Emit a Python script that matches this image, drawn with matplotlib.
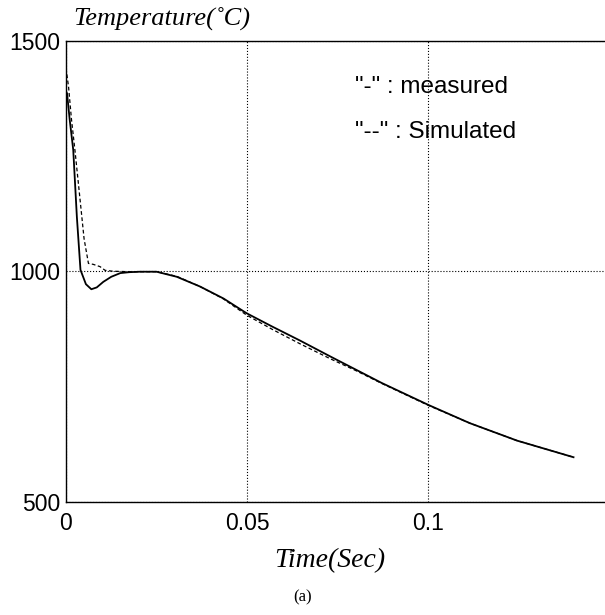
import matplotlib
matplotlib.use('Agg')
from matplotlib import pyplot as plt

# measured temperature trace
t_meas = [0, 0.0003, 0.001, 0.002, 0.003, 0.004, 0.0055, 0.007, 0.0085, 0.0103, 0.0125,
          0.015, 0.0175, 0.0205, 0.025, 0.0306, 0.037, 0.0435, 0.0499, 0.057, 0.0646,
          0.0731, 0.0872, 0.1002, 0.1115, 0.1246, 0.1402]
T_meas = [1390, 1385, 1330, 1263, 1118, 1003, 972, 961, 965, 977, 988,
          996, 998, 999, 999, 988, 967, 941, 909, 880, 850,
          815, 758, 710, 671, 633, 597]

# simulated temperature trace
t_sim = [0, 0.0007, 0.0015, 0.0025, 0.0039, 0.005, 0.0062, 0.0075, 0.0094, 0.0108, 0.013,
         0.0175, 0.0205, 0.025, 0.0306, 0.037, 0.0435, 0.0499, 0.057, 0.0646, 0.0731,
         0.08, 0.0872, 0.1002, 0.1115, 0.1246, 0.1402]
T_sim = [1440, 1400, 1330, 1260, 1154, 1070, 1017, 1015, 1010, 1002, 1000,
         999, 999, 999, 989, 967, 940, 905, 874, 843, 810,
         785, 757, 709, 671, 633, 597]

x_ticks = [0, 0.05, 0.1]
x_tick_labels = ['0', '0.05', '0.1']
y_ticks = [500, 1000, 1500]


def px(x, y):
    """pixel position -> figure fraction"""
    return x / 605, 1 - y / 615


def main():
    fig = plt.figure(figsize=(6.05, 6.15), dpi=100)
    ax = fig.add_axes([66 / 605, 1 - 502 / 615, 543 / 605, 461.5 / 615])

    ax.plot(t_meas, T_meas, color='black', linewidth=1.3)
    ax.plot(t_sim, T_sim, color='black', linewidth=0.9, linestyle=(0, (3, 2)))

    ax.set_xlim(0, 0.15)
    ax.set_ylim(500, 1500)
    ax.set_xticks(x_ticks)
    ax.set_xticklabels(x_tick_labels)
    ax.set_yticks(y_ticks)
    ax.tick_params(length=0, labelsize=16.5)
    ax.tick_params(axis='x', pad=7)
    ax.tick_params(axis='y', pad=4)
    for lab in ax.get_xticklabels() + ax.get_yticklabels():
        lab.set_family('Liberation Sans')
    ax.grid(True, color='black', linestyle=':', linewidth=0.8)
    for s in ax.spines.values():
        s.set_linewidth(1.0)
    ax.spines['right'].set_visible(False)

    # labels
    fig.text(*px(162, 18), 'Temperature(\u02daC)', ha='center', va='center',
             family='Liberation Serif', style='italic', size=19)
    fig.text(*px(330, 561), 'Time(Sec)', ha='center', va='center',
             family='Liberation Serif', style='italic', size=20)
    fig.text(*px(303, 597), '(a)', ha='center', va='center',
             family='Liberation Serif', size=12)

    sans = dict(family='Liberation Sans', size=17.5)
    ax.text(0.0798, 1400, '"-" : measured', ha='left', va='center', **sans)
    ax.text(0.0798, 1302, '"--" : Simulated', ha='left', va='center', **sans)

    fig.savefig('out.png', dpi=100)


if __name__ == '__main__':
    main()
